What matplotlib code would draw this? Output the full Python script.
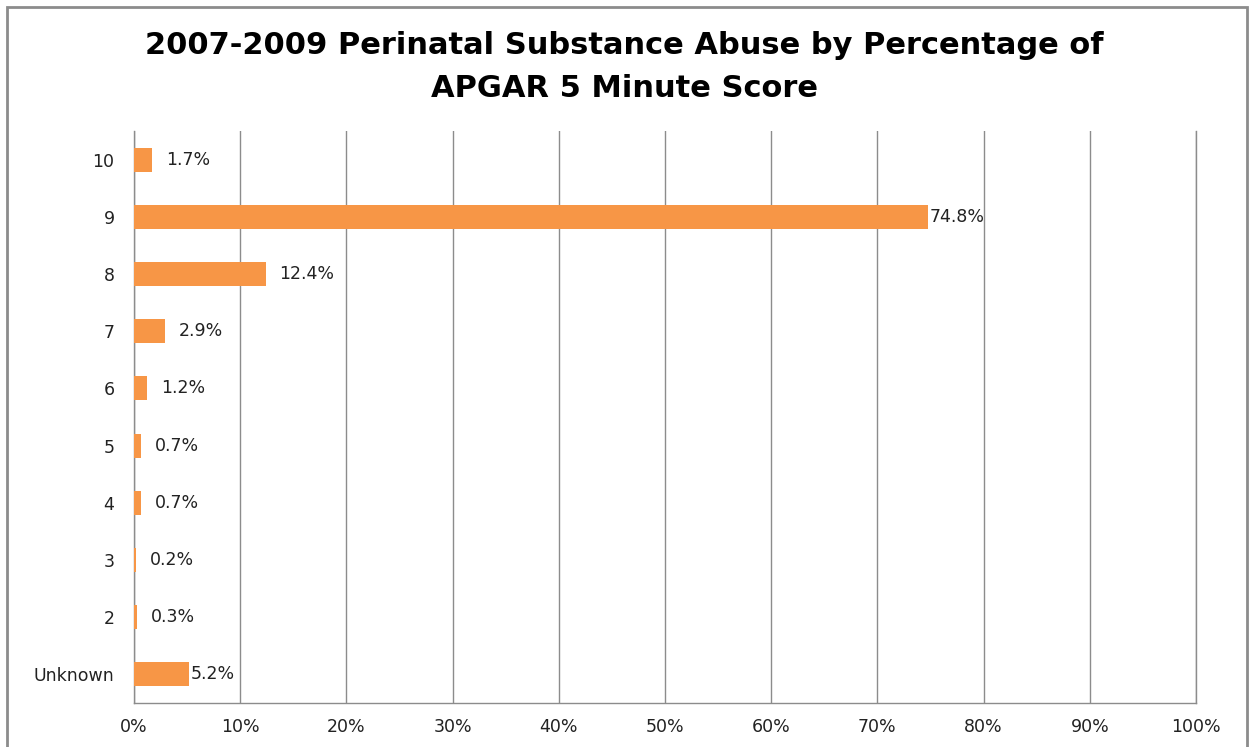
import matplotlib.pyplot as plt
from matplotlib.patches import Rectangle

categories = ['10', '9', '8', '7', '6', '5', '4', '3', '2', 'Unknown']
percentages = [1.7, 74.8, 12.4, 2.9, 1.2, 0.7, 0.7, 0.2, 0.3, 5.2]
value_labels = ['1.7%', '74.8%', '12.4%', '2.9%', '1.2%', '0.7%', '0.7%', '0.2%', '0.3%', '5.2%']
# label gap after bar end, in points (Excel put two of them flush)
label_gaps = [10, 1, 10, 10, 10, 10, 10, 10, 10, 1]
x_ticks = list(range(0, 101, 10))
x_tick_labels = [f'{t}%' for t in x_ticks]

plt.rcParams['font.family'] = ['DejaVu Sans']

fig = plt.figure(figsize=(12.49, 7.47), dpi=100)
ax = fig.add_axes([134 / 1249, 1 - 703 / 747, (1196 - 134) / 1249, (703 - 131) / 747])

ypos = list(range(len(categories)))[::-1]
ax.barh(ypos, percentages, height=0.42, color='#F79646', zorder=3)

for y, v, lab, gap in zip(ypos, percentages, value_labels, label_gaps):
    ax.annotate(lab, (v, y), xytext=(gap, 0), textcoords='offset points',
                va='center', ha='left', fontsize=12.5, color='#222222')

ax.set_xlim(0, 100)
ax.set_ylim(-0.5, len(categories) - 0.5)
ax.set_xticks(x_ticks)
ax.set_xticklabels(x_tick_labels, fontsize=12.5, color='#222222')
ax.set_yticks(ypos)
ax.set_yticklabels(categories, fontsize=12.5, color='#222222')
ax.tick_params(length=0, pad=14)
ax.tick_params(axis='x', pad=11)
ax.xaxis.grid(True, color='#8c8c8c', linewidth=1)
ax.set_axisbelow(True)
ax.spines['top'].set_visible(False)
for s in ['left', 'bottom', 'right']:
    ax.spines[s].set_color('#8c8c8c')
    ax.spines[s].set_linewidth(1)

fig.text(0.5, 1 - 67 / 747, '2007-2009 Perinatal Substance Abuse by Percentage of\nAPGAR 5 Minute Score',
         ha='center', va='center', fontsize=22, fontweight='bold', linespacing=1.6)

fig.patches.append(Rectangle((7 / 1249, -0.01), (1247 - 7) / 1249, 1 - 7 / 747 + 0.01,
                             transform=fig.transFigure, fill=False, edgecolor='#8c8c8c', linewidth=2))

fig.savefig('out.png', dpi=100)
